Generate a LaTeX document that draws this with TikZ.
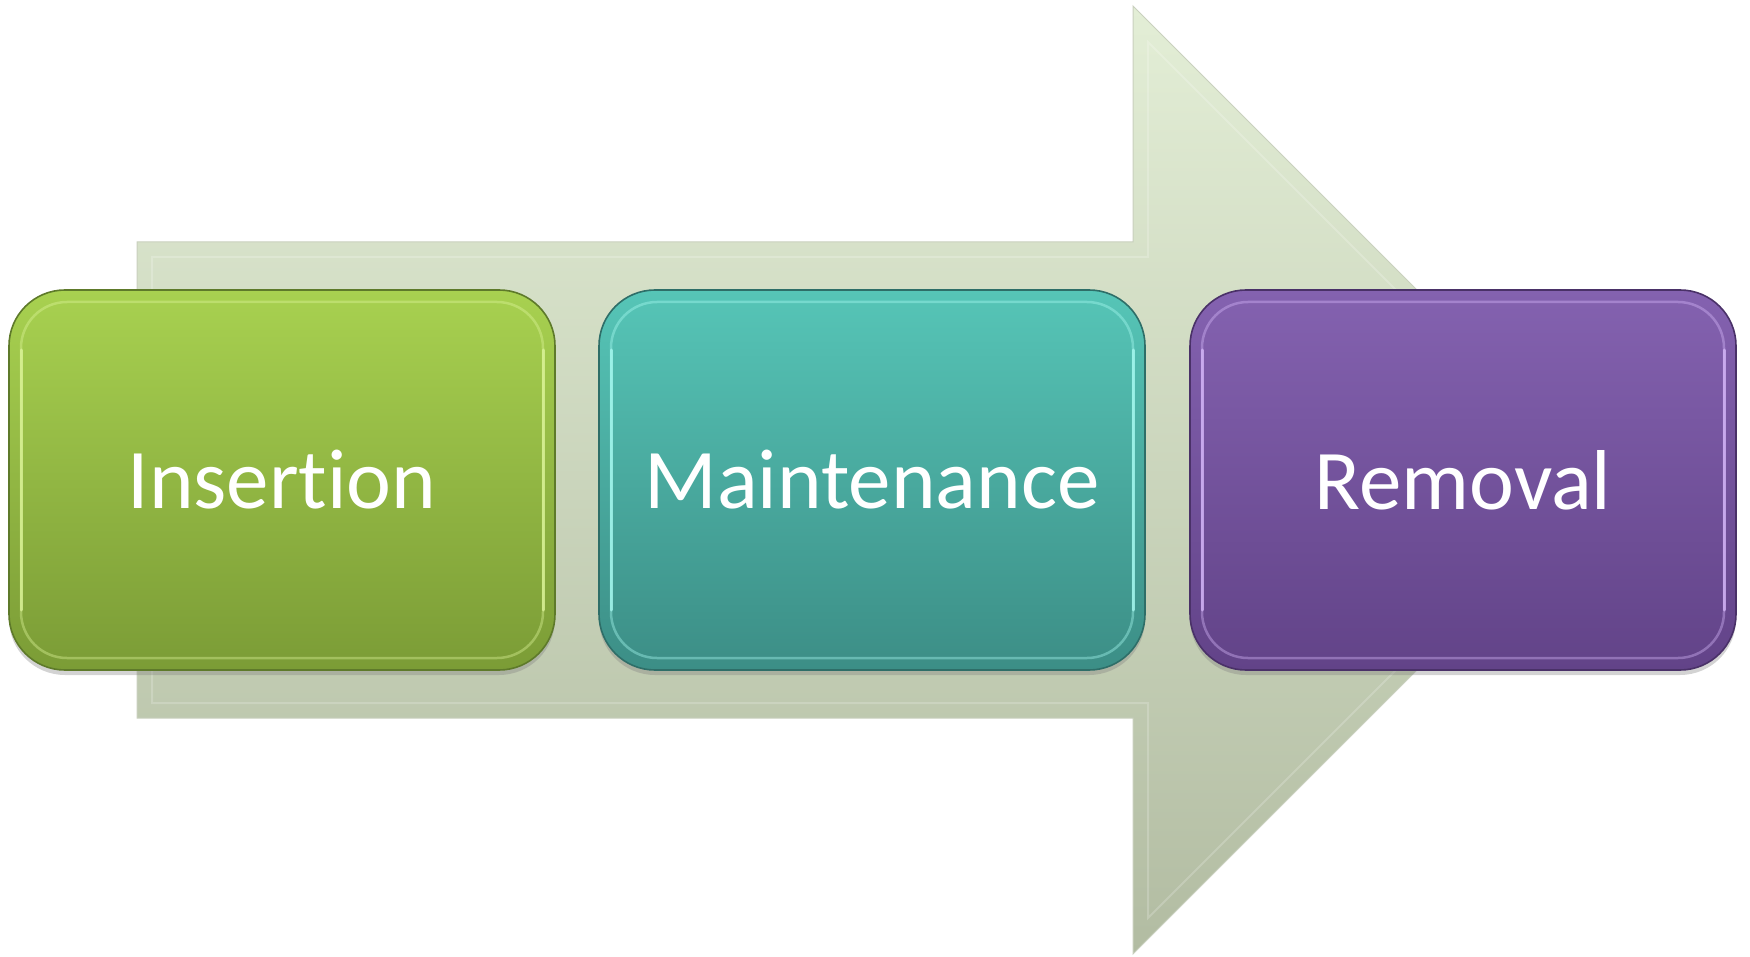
\documentclass[tikz,border=0pt]{standalone}
\usepackage{fontspec}
\setmainfont{Carlito}[Ligatures={NoCommon,NoRare}]
\usetikzlibrary{calc,shadows}
\definecolor{arrowtop}{HTML}{E3EED6}
\definecolor{arrowbot}{HTML}{B2BCA2}
\definecolor{arrowedge}{HTML}{C9D0BE}
\definecolor{grtop}{HTML}{A8D150}
\definecolor{grbot}{HTML}{7B9C36}
\definecolor{gredge}{HTML}{5E7A2A}
\definecolor{grhi}{HTML}{DDF59A}
\definecolor{tltop}{HTML}{56C5B7}
\definecolor{tlbot}{HTML}{3C8E86}
\definecolor{tledge}{HTML}{2E6E68}
\definecolor{tlhi}{HTML}{A8FBF2}
\definecolor{pptop}{HTML}{8462B0}
\definecolor{ppbot}{HTML}{624388}
\definecolor{ppedge}{HTML}{4A3168}
\definecolor{pphi}{HTML}{D6B8FA}
\tikzset{
  stagebox/.style={rectangle, rounded corners=56pt, minimum width=546pt,
    minimum height=380pt, outer sep=0pt, line width=1.6pt,
    text=white, font=\fontsize{85}{100}\selectfont,
    drop shadow={shadow xshift=0pt, shadow yshift=-5pt, opacity=0.35}},
  rimline/.style={rounded corners=46pt, line width=2.5pt, opacity=0.4},
  sideglow/.style={line width=3pt, opacity=0.75, line cap=round},
}
\begin{document}
\begin{tikzpicture}[x=1pt,y=-1pt]
\useasboundingbox (0,0) rectangle (1750,957);
% background arrow
\shade[top color=arrowtop, bottom color=arrowbot, draw=arrowedge, line width=1pt]
  (137,242) -- (1133,242) -- (1133,6) -- (1607,480) -- (1133,954)
  -- (1133,718) -- (137,718) -- cycle;
% bevel on the arrow
\draw[white, opacity=0.2, line width=2pt]
  (152,257) -- (1148,257) -- (1148,42) -- (1586,480) -- (1148,918)
  -- (1148,703) -- (152,703) -- cycle;
% stages
\node[stagebox, draw=gredge, top color=grtop, bottom color=grbot] (ins) at (282,480) {Insertion};
\node[stagebox, draw=tledge, top color=tltop, bottom color=tlbot] (mnt) at (872,480) {Maintenance};
\node[stagebox, draw=ppedge, top color=pptop, bottom color=ppbot] (rem) at (1463,480) {Removal};
% glossy rims with brighter side edges
\foreach \b/\c in {ins/grhi, mnt/tlhi, rem/pphi}{
  \draw[rimline, draw=\c]
    ($(\b.north west)+(12,12)$) rectangle ($(\b.south east)+(-12,-12)$);
  \draw[sideglow, draw=\c]
    ($(\b.north west)+(12,60)$) -- ($(\b.south west)+(12,-60)$);
  \draw[sideglow, draw=\c]
    ($(\b.north east)+(-12,60)$) -- ($(\b.south east)+(-12,-60)$);
}
\end{tikzpicture}
\end{document}
